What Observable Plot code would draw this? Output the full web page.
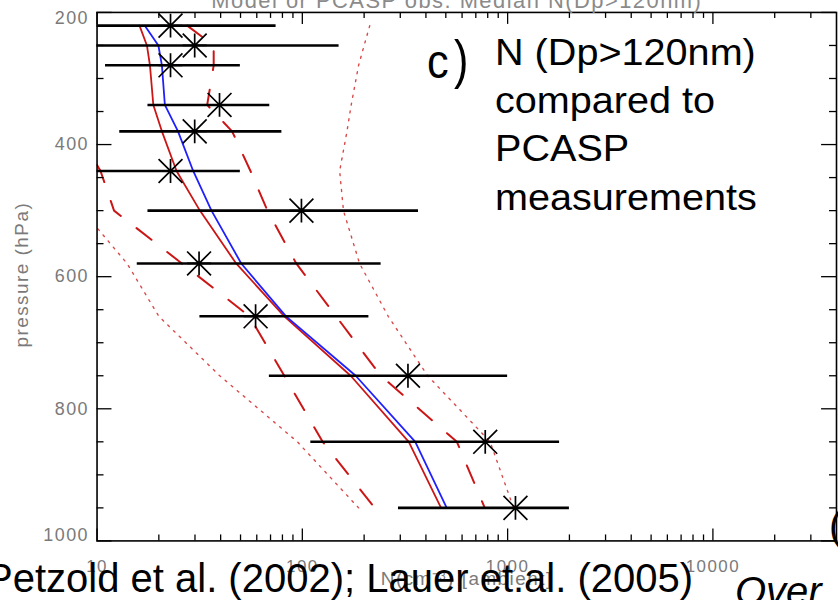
<!DOCTYPE html>
<html><head><meta charset="utf-8">
<script src="https://cdn.jsdelivr.net/npm/d3@7"></script>
<script src="https://cdn.jsdelivr.net/npm/@observablehq/plot@0.6"></script>
<style>
html,body{margin:0;padding:0;overflow:hidden;background:#fff;}
#wrap{position:relative;width:838px;height:600px;overflow:hidden;font-family:"Liberation Sans",Arial,sans-serif;}
#wrap svg{position:absolute;left:0;top:0;overflow:visible;}
.ov{position:absolute;white-space:nowrap;color:#000;line-height:1;transform-origin:0 0;}
</style></head><body><div id="wrap"></div>
<script>
// pressure levels of the PCASP observations (hPa)
const pressure   = [220, 250, 280, 340, 380, 440, 500, 580, 660, 750, 850, 950];
// PCASP observations: median and range (cm-3)
const obsMedian  = [22.8, 29.9, 22.8, 39.5, 29.9, 22.8, 99, 31.4, 59.2, 327, 778, 1092];
const obsLow     = [6, 6, 11.0, 17.7, 12.9, 6, 17.7, 15.7, 31.7, 69.1, 110, 294];
const obsHigh    = [74.5, 151, 49.9, 69.4, 79.5, 49.9, 368, 242, 211, 1000, 1791, 2000];
// model medians
const modelBlue  = [17.1, 19.9, 20.7, 21.4, 24.8, 29.4, 36.1, 50.4, 83.3, 182, 355, 505];
const modelRed   = [16.1, 17.5, 18.1, 18.8, 20.7, 24.4, 31.7, 47.6, 81.7, 172, 330, 474];
// model spread (red dashed / dotted); null = off the chart, not readable
const dashHigh   = [27.5, 37.0, 37.0, 34.4, 45.5, 55.9, 67.6, 93.4, 146, 241, 566, 774];
const dashLow    = [null, null, null, null, 8, 10.4, 12.1, 25.9, 55.3, 81.7, 125.6, 225];
const dotHigh    = [213, 200, 188, 173, 165, 152, 158.6, 190, 262, 408, 822, 1069];
const dotLow     = [null, null, null, null, null, null, 8.5, 14.0, 20.0, 39.6, 94.6, 188];
// axes
const xTickLabels = [10, 100, 1000, 10000];
const yTickLabels = [200, 400, 600, 800, 1000];
const xDomain = [10, 40000];
const yDomain = [1000, 200];
const titleText = "Model or PCASP obs. Median N(Dp>120nm)";
const xLabel = "N(cm\u207B\u00B3) [ambient]";
const yLabel = "pressure (hPa)";

const rows = pressure.map((p, i) => ({p, med: obsMedian[i], lo: obsLow[i], hi: obsHigh[i]}));
const series = (vals) => pressure.map((p, i) => ({p, v: vals[i]})).filter(d => d.v != null);

const W = 842, H = 600, mL = 97, mR = 2, mT = 12, mB = 57;
const pw = W - mL - mR, ph = H - mT - mB;

const xMinor = d3.scaleLog().domain(xDomain).ticks().filter(v => !xTickLabels.includes(v) && v < xDomain[1]);
const yMinor = d3.range(250, 1000, 50).filter(v => !yTickLabels.includes(v));
const yFirst = yTickLabels[0], yLast = yTickLabels[yTickLabels.length - 1];
const yInner = yTickLabels.filter(v => v !== yFirst && v !== yLast);

const asterisk = {draw(ctx, size) {
  const r = Math.sqrt(size / Math.PI);
  ctx.moveTo(-r, -r); ctx.lineTo(r, r);
  ctx.moveTo(-r, r); ctx.lineTo(r, -r);
  ctx.moveTo(0, -r); ctx.lineTo(0, r);
  ctx.moveTo(-r, 0); ctx.lineTo(r, 0);
}};

const red = "#cc1616";
const yAxisOpts = {tickSize: 0, tickPadding: 8, tickFormat: d => String(d), fontSize: 18, fill: "#7a7a7a", label: null};
const chart = Plot.plot({
  width: W, height: H,
  marginLeft: mL, marginRight: mR, marginTop: mT, marginBottom: mB,
  style: {fontFamily: "'Liberation Sans', Arial, sans-serif", background: "transparent", color: "#777"},
  x: {type: "log", domain: xDomain, axis: null},
  y: {domain: yDomain, axis: null},
  marks: [
    // lines
    Plot.line(series(dotLow), {x: "v", y: "p", stroke: "#d84a4a", strokeWidth: 1.4, strokeDasharray: "2,6", clip: true}),
    Plot.line(series(dotHigh), {x: "v", y: "p", stroke: "#d84a4a", strokeWidth: 1.4, strokeDasharray: "2,6", clip: true}),
    Plot.line(series(dashLow), {x: "v", y: "p", stroke: red, strokeWidth: 2, strokeDasharray: "19,20", clip: true}),
    Plot.line(series(dashHigh), {x: "v", y: "p", stroke: red, strokeWidth: 2, strokeDasharray: "19,20", clip: true}),
    Plot.line(series(modelRed), {x: "v", y: "p", stroke: red, strokeWidth: 1.8, clip: true}),
    Plot.line(series(modelBlue), {x: "v", y: "p", stroke: "#1f1fff", strokeWidth: 1.8, clip: true}),
    // observations
    Plot.ruleY(rows, {y: "p", x1: "lo", x2: "hi", stroke: "black", strokeWidth: 2.6, clip: true}),
    Plot.dot(rows, {x: "med", y: "p", r: 12, symbol: asterisk, stroke: "black", fill: "none", strokeWidth: 1.7}),
    // inward ticks
    Plot.ruleX(xTickLabels, {insetTop: ph - 12, stroke: "black", strokeWidth: 1.3}),
    Plot.ruleX(xMinor, {insetTop: ph - 6, stroke: "black", strokeWidth: 1.3}),
    Plot.ruleX(xTickLabels, {insetBottom: ph - 12, stroke: "black", strokeWidth: 1.3}),
    Plot.ruleX(xMinor, {insetBottom: ph - 6, stroke: "black", strokeWidth: 1.3}),
    Plot.ruleY(yTickLabels, {insetRight: pw - 15, stroke: "black", strokeWidth: 1.3}),
    Plot.ruleY(yMinor, {insetRight: pw - 7, stroke: "black", strokeWidth: 1.3}),
    Plot.ruleY(yTickLabels, {insetLeft: pw - 15, stroke: "black", strokeWidth: 1.3}),
    Plot.ruleY(yMinor, {insetLeft: pw - 7, stroke: "black", strokeWidth: 1.3}),
    Plot.frame({stroke: "black", strokeWidth: 1.6}),
    // tick labels
    Plot.axisX({ticks: xTickLabels, tickSize: 0, tickPadding: 19, tickFormat: d => String(d), fontSize: 17, fill: "#7a7a7a", label: null}),
    Plot.axisY({...yAxisOpts, ticks: yInner}),
    Plot.axisY({...yAxisOpts, ticks: [yFirst], dy: 6}),
    Plot.axisY({...yAxisOpts, ticks: [yLast], dy: -6}),
    // labels
    Plot.text([xLabel], {frameAnchor: "bottom", dx: 0, dy: 44, fontSize: 19, fill: "#7a7a7a"}),
    Plot.text([yLabel], {frameAnchor: "left", dx: -75, dy: -2, rotate: -90, textAnchor: "middle", fontSize: 19, fill: "#7a7a7a"}),
    Plot.text([titleText], {frameAnchor: "top", dx: -10, dy: -20, fontSize: 22, fill: "#8a8a8a"})
  ]
});
chart.querySelectorAll("text").forEach(t => t.style.letterSpacing = "1.5px");
const wrap = document.getElementById("wrap");
wrap.appendChild(chart);

function overlay(text, left, top, size, opts = {}) {
  const d = document.createElement("div");
  d.className = "ov";
  d.textContent = text;
  d.style.left = left + "px";
  d.style.top = top + "px";
  d.style.fontSize = size + "px";
  if (opts.sx) d.style.transform = `scaleX(${opts.sx})`;
  if (opts.italic) d.style.fontStyle = "italic";
  wrap.appendChild(d);
}
overlay("c", 427, 38.4, 48, {sx: 0.9});
overlay(")", 454, 32, 54, {sx: 0.8});
overlay("N (Dp>120nm)", 495, 34.5, 36, {sx: 1.1});
overlay("compared to", 495, 82.8, 36, {sx: 1.1});
overlay("PCASP", 495, 131.1, 36, {sx: 1.1});
overlay("measurements", 495, 179.5, 36, {sx: 1.1});
overlay("Petzold et al. (2002); Lauer et.al. (2005)", -14, 558, 40);
overlay("Over", 735, 571, 40, {italic: true});
overlay("(", 829, 506, 40);
</script></body></html>
